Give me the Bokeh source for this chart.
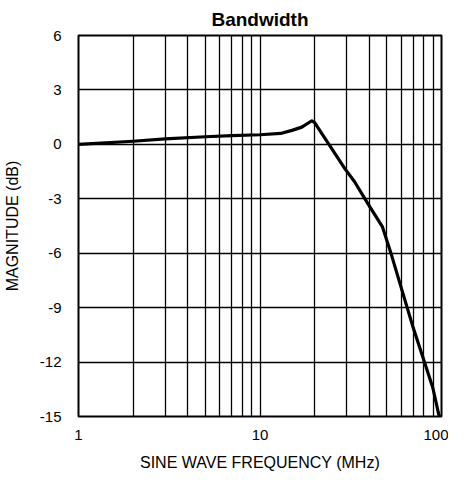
from bokeh.plotting import figure
from bokeh.models import Range1d, FixedTicker, NumeralTickFormatter
from bokeh.embed import file_html
from bokeh.resources import INLINE

# Data
freq_mhz = [1, 2, 3, 5, 7, 10, 13, 15, 17, 19.3, 20, 29.4, 33.2, 39.2, 47.2,
            52.3, 59.3, 69.8, 80.7, 89.5, 96.4, 97.6]
magnitude_db = [0.0, 0.17, 0.3, 0.42, 0.48, 0.53, 0.6, 0.77, 0.95, 1.3, 1.2,
                -1.35, -2.06, -3.25, -4.53, -5.9, -7.73, -10.1, -12.03, -13.4,
                -14.86, -15.0]
x_major_ticks = [1, 10, 100]
x_grid_ticks = [1, 2, 3, 4, 5, 6, 7, 8, 9, 10, 20, 30, 40, 50, 60, 70, 80, 90, 100]
y_ticks = [-15, -12, -9, -6, -3, 0, 3, 6]
y_tick_labels = ["-15", "-12", "-9", "-6", "-3", "0", "3", "6"]

FONT = "Liberation Sans"

p = figure(width=448, height=473, x_axis_type="log",
           x_range=Range1d(1, 100), y_range=Range1d(-15, 6),
           output_backend="svg", toolbar_location=None,
           title="Bandwidth",
           min_border_left=69, min_border_right=7,
           min_border_top=35, min_border_bottom=55)

p.title.align = "center"
p.title.text_font = FONT
p.title.text_font_size = "19px"
p.title.text_font_style = "bold"
p.title.text_color = "black"
p.title.standoff = 12

p.outline_line_color = "black"
p.outline_line_width = 2
p.background_fill_color = "white"
p.border_fill_color = "white"

p.xaxis.ticker = FixedTicker(ticks=x_major_ticks)
p.xaxis.formatter = NumeralTickFormatter(format="0")
p.yaxis.ticker = FixedTicker(ticks=y_ticks)
p.yaxis.major_label_overrides = dict(zip(y_ticks, y_tick_labels))

for ax in (p.xaxis[0], p.yaxis[0]):
    ax.axis_line_color = None
    ax.major_tick_line_color = None
    ax.minor_tick_line_color = None
    ax.major_label_text_font = FONT
    ax.major_label_text_font_size = "15px"
    ax.major_label_text_color = "black"
    ax.axis_label_text_font = FONT
    ax.axis_label_text_font_size = "16px"
    ax.axis_label_text_font_style = "normal"
    ax.axis_label_text_color = "black"

p.xaxis.axis_label = "SINE WAVE FREQUENCY (MHz)"
p.yaxis.axis_label = "MAGNITUDE (dB)"
p.xaxis.major_label_standoff = 7
p.xaxis.axis_label_standoff = 11
p.yaxis.major_label_standoff = 11
p.yaxis.axis_label_standoff = 16

p.xgrid.ticker = FixedTicker(ticks=x_grid_ticks)
p.ygrid.ticker = FixedTicker(ticks=y_ticks)
for g in (p.xgrid[0], p.ygrid[0]):
    g.grid_line_color = "black"
    g.grid_line_width = 1.3
    g.grid_line_alpha = 1.0

p.line(freq_mhz, magnitude_db, line_color="black", line_width=3.2,
       line_join="round", line_cap="round")

open("out.html", "w").write(file_html(p, INLINE))
